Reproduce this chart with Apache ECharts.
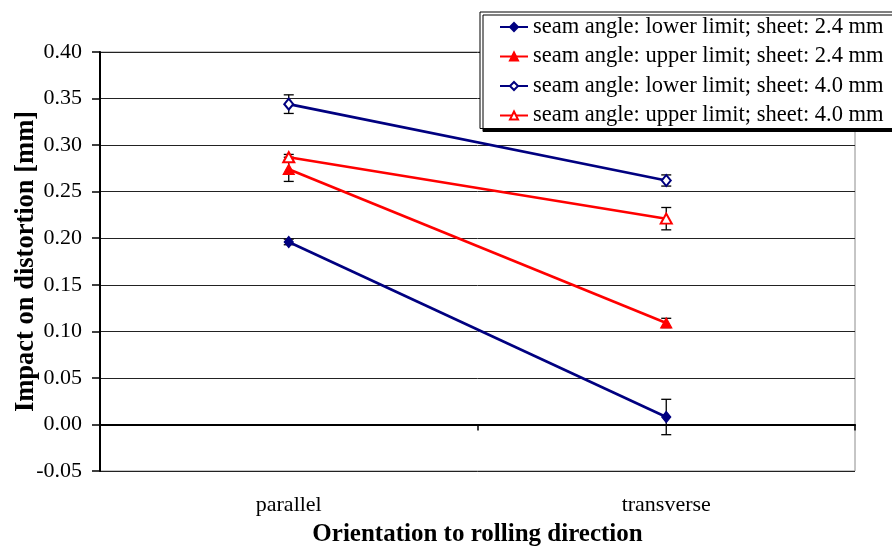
<!DOCTYPE html>
<html>
<head>
<meta charset="utf-8">
<script src="https://cdn.jsdelivr.net/npm/echarts@6/dist/echarts.min.js"></script>
<style>
  html, body { margin: 0; padding: 0; background: #fff; }
  #chart { width: 892px; height: 546px; }
</style>
</head>
<body>
<div id="chart"></div>
<script>
// Orientation categories
const categories = ['parallel', 'transverse'];

// Mean distortion impact [mm] and error-bar half widths per configuration
const lowerLimit24 = [0.196, 0.008];
const lowerLimit24Err = [0.003, 0.019];
const upperLimit24 = [0.274, 0.109];
const upperLimit24Err = [0.013, 0.005];
const lowerLimit40 = [0.344, 0.262];
const lowerLimit40Err = [0.010, 0.006];
const upperLimit40 = [0.287, 0.221];
const upperLimit40Err = [0.003, 0.012];

const seriesNames = [
  'seam angle: lower limit; sheet: 2.4 mm',
  'seam angle: upper limit; sheet: 2.4 mm',
  'seam angle: lower limit; sheet: 4.0 mm',
  'seam angle: upper limit; sheet: 4.0 mm'
];

const FONT = '"Liberation Serif", "Times New Roman", serif';
const NAVY = '#000080';
const RED = '#ff0000';

function lineSeries(name, values, color, symbol, size) {
  return {
    name: name,
    type: 'line',
    xAxisIndex: 0,
    data: values,
    symbol: symbol,
    symbolSize: size,
    showAllSymbol: true,
    lineStyle: { color: color, width: 2.6 },
    itemStyle: { color: color, borderColor: color, borderWidth: 1.2 },
    z: 3,
    animation: false
  };
}

// Vertical error bars with caps, drawn under the markers
function errorSeries(values, errs) {
  const data = values.map((v, i) => [i, v - errs[i], v + errs[i]]);
  return {
    type: 'custom',
    xAxisIndex: 0,
    data: data,
    z: 2,
    silent: true,
    animation: false,
    renderItem: function (params, api) {
      const lo = api.coord([api.value(0), api.value(1)]);
      const hi = api.coord([api.value(0), api.value(2)]);
      const hw = 5;
      const style = { stroke: '#000', lineWidth: 1.3 };
      return {
        type: 'group',
        children: [
          { type: 'line', shape: { x1: lo[0], y1: lo[1], x2: hi[0], y2: hi[1] }, style: style },
          { type: 'line', shape: { x1: lo[0] - hw, y1: lo[1], x2: lo[0] + hw, y2: lo[1] }, style: style },
          { type: 'line', shape: { x1: hi[0] - hw, y1: hi[1], x2: hi[0] + hw, y2: hi[1] }, style: style }
        ]
      };
    }
  };
}

const chart = echarts.init(document.getElementById('chart'), null, { renderer: 'canvas' });

chart.setOption({
  backgroundColor: '#ffffff',
  animation: false,
  grid: {
    left: 100, right: 37, top: 52, bottom: 75,
    outerBoundsMode: 'none',
    containLabel: false,
    show: true,
    backgroundColor: '#ffffff',
    borderColor: '#8c8c8c',
    borderWidth: 1
  },
  legend: {
    orient: 'vertical',
    left: 480,
    top: 12,
    padding: [3, 22, 1, 19],
    itemGap: 5.5,
    itemWidth: 28,
    itemHeight: 10,
    backgroundColor: '#ffffff',
    borderColor: '#000',
    borderWidth: 1,
    shadowColor: '#000',
    shadowOffsetX: 3,
    shadowOffsetY: 3,
    shadowBlur: 0,
    textStyle: { fontFamily: FONT, fontSize: 22.5, color: '#000', lineHeight: 24 },
    data: seriesNames
  },
  xAxis: [
    {
      type: 'category',
      data: categories,
      boundaryGap: true,
      axisLine: { onZero: true, lineStyle: { color: '#000', width: 2 } },
      axisTick: { show: true, inside: false, length: 6, lineStyle: { color: '#000', width: 1.5 } },
      axisLabel: { show: false },
      splitLine: { show: false }
    },
    {
      type: 'category',
      data: categories,
      position: 'bottom',
      boundaryGap: true,
      axisLine: { show: false, onZero: false },
      axisTick: { show: false },
      axisLabel: { margin: 23, fontFamily: FONT, fontSize: 22, color: '#000' },
      splitLine: { show: false },
      name: 'Orientation to rolling direction',
      nameLocation: 'middle',
      nameGap: 51,
      nameMoveOverlap: false,
      nameTextStyle: { fontFamily: FONT, fontSize: 25, fontWeight: 'bold', color: '#000' }
    }
  ],
  yAxis: {
    type: 'value',
    min: -0.05,
    max: 0.4,
    interval: 0.05,
    axisLine: { show: true, lineStyle: { color: '#000', width: 2 } },
    axisTick: { show: true, inside: false, length: 8, lineStyle: { color: '#000', width: 1.5 } },
    axisLabel: {
      margin: 18,
      fontFamily: FONT,
      fontSize: 22,
      color: '#000',
      formatter: v => v.toFixed(2)
    },
    splitLine: { show: true, lineStyle: { color: '#222', width: 1 } },
    name: 'Impact on distortion [mm]',
    nameLocation: 'middle',
    nameGap: 60,
    nameMoveOverlap: false,
    nameTextStyle: { fontFamily: FONT, fontSize: 26.5, fontWeight: 'bold', color: '#000' }
  },
  series: [
    errorSeries(lowerLimit24, lowerLimit24Err),
    errorSeries(upperLimit24, upperLimit24Err),
    errorSeries(lowerLimit40, lowerLimit40Err),
    errorSeries(upperLimit40, upperLimit40Err),
    lineSeries(seriesNames[0], lowerLimit24, NAVY, 'diamond', [9, 11]),
    lineSeries(seriesNames[1], upperLimit24, RED, 'triangle', [11, 10]),
    lineSeries(seriesNames[2], lowerLimit40, NAVY, 'emptyDiamond', [9, 11]),
    lineSeries(seriesNames[3], upperLimit40, RED, 'emptyTriangle', [11, 10])
  ]
});
</script>
</body>
</html>
